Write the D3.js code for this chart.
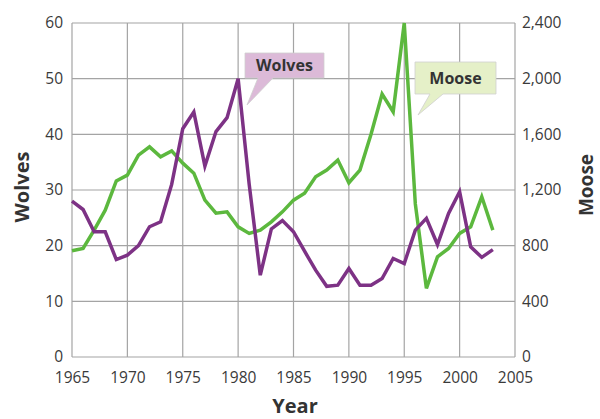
<!DOCTYPE html>
<html><head><meta charset="utf-8">
<script src="https://cdn.jsdelivr.net/npm/d3@7"></script>
<style>body{margin:0;background:#fff}svg{display:block}</style>
</head><body>
<svg id="c" width="600" height="419"></svg>
<script>
const years = d3.range(1965, 2004);
const wolves = [28,26.5,22.5,22.5,17.5,18.3,20,23.4,24.3,31,41,44,34.3,40.5,43,50,31,14.7,23,24.5,22.5,19,15.6,12.7,12.9,15.9,12.9,12.9,14.1,17.7,16.8,22.8,24.9,20.2,25.8,29.7,19.8,17.9,19.3];
const moose = [763,780,912,1055,1265,1307,1451,1510,1438,1481,1393,1321,1127,1033,1043,935,888,912,971,1043,1127,1177,1295,1343,1415,1252,1343,1600,1890,1762,2400,1100,493,720,780,888,935,1151,912];
const xTicks = [1965,1970,1975,1980,1985,1990,1995,2000,2005];
const wolfTicks = [0,10,20,30,40,50,60];
const mooseTicks = [0,400,800,1200,1600,2000,2400];

const svg = d3.select("#c");
const L = 72, R = 515, T = 23, B = 357;
const x = d3.scaleLinear().domain([1965,2005]).range([L,R]);
const yW = d3.scaleLinear().domain([0,60]).range([B,T]);
const yM = d3.scaleLinear().domain([0,2400]).range([B,T]);
const font = "'Open Sans', 'Noto Sans', sans-serif";

// grid
const g = svg.append("g");
g.selectAll(".v").data(xTicks).join("line")
  .attr("x1", d=>x(d)).attr("x2", d=>x(d)).attr("y1", T).attr("y2", B)
  .attr("stroke", "#a4a4a4").attr("stroke-width", 1.2);
g.selectAll(".h").data(wolfTicks).join("line")
  .attr("x1", L).attr("x2", R).attr("y1", d=>yW(d)).attr("y2", d=>yW(d))
  .attr("stroke", "#a4a4a4").attr("stroke-width", 1.2);

// axes
const axL = d3.axisLeft(yW).tickValues(wolfTicks).tickSize(0).tickPadding(9);
const axR = d3.axisRight(yM).tickValues(mooseTicks).tickSize(0).tickPadding(7).tickFormat(d3.format(","));
const axB = d3.axisBottom(x).tickValues(xTicks).tickSize(0).tickPadding(15).tickFormat(d3.format("d"));
function style(sel){
  sel.select(".domain").remove();
  sel.selectAll("text").attr("font-family", font).attr("font-size", 15.5).attr("fill", "#3a3a3a");
}
svg.append("g").attr("transform",`translate(${L},0)`).call(axL).call(style);
svg.append("g").attr("transform",`translate(${R},0)`).call(axR).call(style);
svg.append("g").attr("transform",`translate(0,${B})`).call(axB).call(style);

// lines
const lw = d3.line().x((d,i)=>x(years[i])).y(d=>yW(d));
const lm = d3.line().x((d,i)=>x(years[i])).y(d=>yM(d));
svg.append("path").datum(moose).attr("d", lm).attr("fill","none")
  .attr("stroke","#5cb83e").attr("stroke-width",3.5).attr("stroke-linejoin","miter");
svg.append("path").datum(wolves).attr("d", lw).attr("fill","none")
  .attr("stroke","#7d3285").attr("stroke-width",3.5).attr("stroke-linejoin","miter");

// axis titles
svg.append("text").attr("transform","translate(29,187) rotate(-90)").attr("text-anchor","middle")
  .attr("font-family",font).attr("font-weight","bold").attr("font-size",20).attr("fill","#333").text("Wolves");
svg.append("text").attr("transform","translate(593,185) rotate(-90)").attr("text-anchor","middle")
  .attr("font-family",font).attr("font-weight","bold").attr("font-size",19).attr("fill","#333").text("Moose");
svg.append("text").attr("x",295).attr("y",413).attr("text-anchor","middle")
  .attr("font-family",font).attr("font-weight","bold").attr("font-size",20).attr("fill","#333").text("Year");

// callouts
function callout(x0,y0,x1,y1,b0,b1,tx,ty,fill,label){
  const p = `M${x0},${y0}H${x1}V${y1}H${b1}L${tx},${ty}L${b0},${y1}H${x0}Z`;
  svg.append("path").attr("d",p).attr("fill",fill).attr("stroke","#cfcfcf").attr("stroke-width",0.8);
  svg.append("text").attr("x",(x0+x1)/2).attr("y",(y0+y1)/2+5.5).attr("text-anchor","middle")
    .attr("font-family",font).attr("font-weight","bold").attr("font-size",16).attr("fill","#333").text(label);
}
callout(245,53,324,78,258,273,247,105,"#dcbad8","Wolves");
callout(415,62,496,94,430,443,418,115,"#e5f0c8","Moose");
</script>
</body></html>
